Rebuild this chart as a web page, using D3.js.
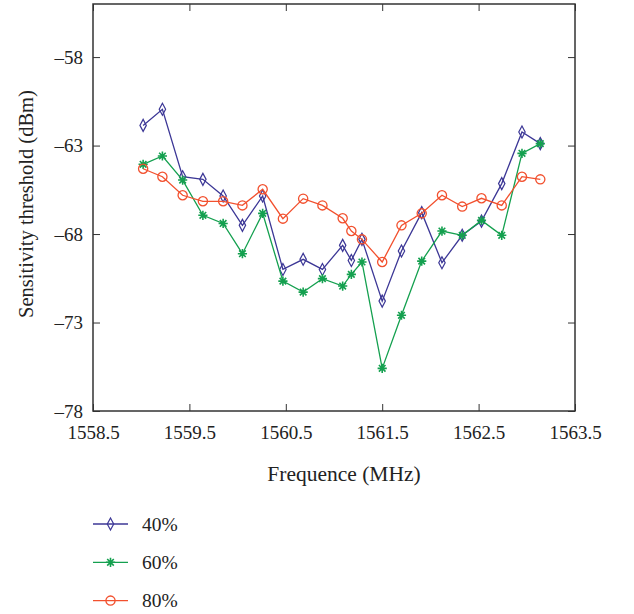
<!DOCTYPE html>
<html>
<head>
<meta charset="utf-8">
<script src="https://cdn.jsdelivr.net/npm/d3@7"></script>
<style>
  body { margin: 0; background: #fff; }
  svg { display: block; font-family: "Liberation Serif", "DejaVu Serif", serif; }
  .axis path, .axis line { stroke: #333; }
  .axis text { font-size: 19px; fill: #222; font-family: "Liberation Serif", serif; }
</style>
</head>
<body>
<svg id="chart"></svg>
<script>
// Frequencies (MHz)
const freqs = [1559.02, 1559.22, 1559.43, 1559.64, 1559.85, 1560.05, 1560.26, 1560.47, 1560.68, 1560.88,
  1561.09, 1561.18, 1561.29, 1561.5, 1561.7, 1561.91, 1562.12, 1562.33, 1562.53, 1562.74, 1562.95, 1563.14];

// Sensitivity threshold (dBm) per series
const s40 = [-61.86, -60.95, -64.76, -64.91, -65.85, -67.51, -65.85, -70.0, -69.43, -70.0,
  -68.64, -69.49, -68.3, -71.79, -68.96, -66.79, -69.62, -68.07, -67.27, -65.15, -62.23, -62.89];
const s60 = [-64.06, -63.59, -64.95, -66.94, -67.4, -69.11, -66.83, -70.66, -71.28, -70.52,
  -70.94, -70.28, -69.58, -75.59, -72.59, -69.53, -67.83, -68.07, -67.23, -68.07, -63.44, -62.89];
const s80 = [-64.31, -64.76, -65.81, -66.15, -66.15, -66.38, -65.47, -67.13, -66.0, -66.38,
  -67.11, -67.83, -68.3, -69.58, -67.51, -66.83, -65.81, -66.45, -65.98, -66.38, -64.76, -64.91];

const seriesNames = ['40%', '60%', '80%'];
const xTicks = [1558.5, 1559.5, 1560.5, 1561.5, 1562.5, 1563.5];
const yTicks = [-78, -73, -68, -63, -58];

const series = [
  {name: seriesNames[0], values: s40, color: '#3c3796', marker: 'diamond'},
  {name: seriesNames[1], values: s60, color: '#14a04f', marker: 'star'},
  {name: seriesNames[2], values: s80, color: '#f2502e', marker: 'circle'}
];

const W = 634, H = 614;
const margin = {top: 4, right: 59, bottom: 203, left: 93};
const width = W - margin.left - margin.right;
const height = H - margin.top - margin.bottom;

const svg = d3.select('#chart').attr('width', W).attr('height', H);
const chart = svg.append('g').attr('transform', `translate(${margin.left},${margin.top})`);

const xScale = d3.scaleLinear().domain([1558.5, 1563.5]).range([0, width]);
const yScale = d3.scaleLinear().domain([-78, -55]).range([height, 0]);

const fmtY = d => String(d).replace('-', '\u2013');

// axes: ticks point inward, mirrored on top/right
chart.append('g').attr('class', 'axis')
  .attr('transform', `translate(0,${height})`)
  .call(d3.axisBottom(xScale).tickValues(xTicks).tickSize(-7).tickPadding(15).tickFormat(d3.format('.1f')))
  .call(g => g.select('.domain').remove());
chart.append('g').attr('class', 'axis')
  .call(d3.axisTop(xScale).tickValues(xTicks).tickSize(-7).tickFormat(''))
  .call(g => g.select('.domain').remove());
chart.append('g').attr('class', 'axis')
  .call(d3.axisLeft(yScale).tickValues(yTicks).tickSize(-7).tickPadding(10).tickFormat(fmtY))
  .call(g => g.select('.domain').remove());
chart.append('g').attr('class', 'axis')
  .attr('transform', `translate(${width},0)`)
  .call(d3.axisRight(yScale).tickValues(yTicks).tickSize(-7).tickFormat(''))
  .call(g => g.select('.domain').remove());

chart.append('rect')
  .attr('width', width).attr('height', height)
  .attr('fill', 'none').attr('stroke', '#333').attr('stroke-width', 1.5);

// marker drawing
function drawMarker(sel, type, color) {
  if (type === 'diamond') {
    sel.append('path').attr('d', 'M0,-6L3.2,0L0,6L-3.2,0Z')
      .attr('fill', 'none').attr('stroke', color).attr('stroke-width', 1.2);
  } else if (type === 'circle') {
    sel.append('circle').attr('r', 4.6)
      .attr('fill', 'none').attr('stroke', color).attr('stroke-width', 1.3);
  } else {
    const r = 4.6, r2 = 3.3;
    sel.append('path')
      .attr('d', `M0,${-r}L0,${r}M${-r},0L${r},0M${-r2},${-r2}L${r2},${r2}M${-r2},${r2}L${r2},${-r2}`)
      .attr('stroke', color).attr('stroke-width', 1.6);
  }
}

const line = d3.line().x((d, i) => xScale(freqs[i])).y(d => yScale(d));

series.forEach(s => {
  chart.append('path')
    .datum(s.values)
    .attr('fill', 'none')
    .attr('stroke', s.color)
    .attr('stroke-width', 1.3)
    .attr('d', line);
  chart.selectAll(null)
    .data(s.values)
    .join('g')
    .attr('transform', (d, i) => `translate(${xScale(freqs[i])},${yScale(d)})`)
    .each(function() { drawMarker(d3.select(this), s.marker, s.color); });
});

// axis titles
svg.append('text')
  .attr('x', 344).attr('y', 481)
  .attr('text-anchor', 'middle')
  .style('font-size', '21.5px').style('fill', '#222')
  .text('Frequence (MHz)');

svg.append('text')
  .attr('transform', 'translate(33,204) rotate(-90)')
  .attr('text-anchor', 'middle')
  .style('font-size', '20.5px').style('fill', '#222')
  .text('Sensitivity threshold (dBm)');

// legend
const legend = svg.append('g');
series.forEach((s, i) => {
  const y = 524 + i * 38.3;
  const g = legend.append('g').attr('transform', `translate(93,${y})`);
  g.append('line').attr('x1', 0).attr('x2', 35).attr('stroke', s.color).attr('stroke-width', 1.3);
  drawMarker(g.append('g').attr('transform', 'translate(17.5,0)'), s.marker, s.color);
  g.append('text').attr('x', 49).attr('y', 6.5)
    .style('font-size', '19.5px').style('fill', '#222')
    .text(s.name);
});
</script>
</body>
</html>
